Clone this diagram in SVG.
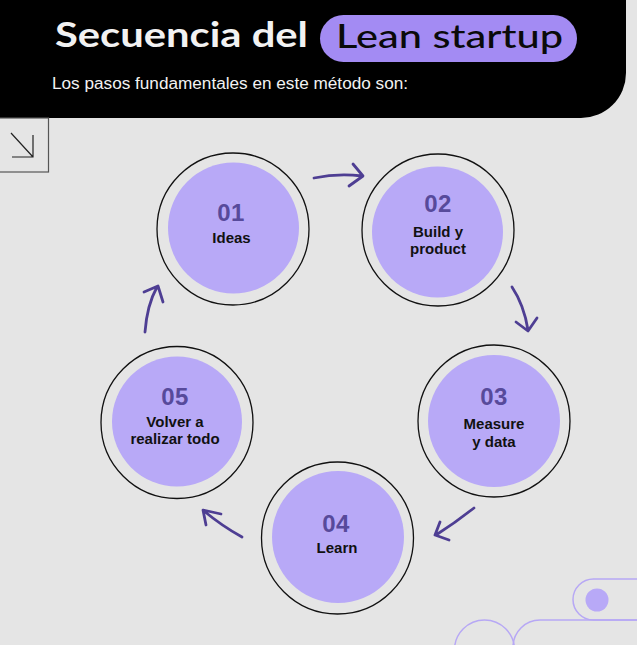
<svg xmlns="http://www.w3.org/2000/svg" width="637" height="645" viewBox="0 0 637 645">
  <style>
    .ring { fill: none; stroke: #111; stroke-width: 1.3; }
    .core { fill: #b8a9f7; }
    .num { font-family: "Liberation Sans", Arial, sans-serif; font-weight: 700; font-size: 24px; fill: #574a9b; text-anchor: middle; letter-spacing: 0.5px; }
    .lbl { font-family: "Liberation Sans", Arial, sans-serif; font-weight: 700; font-size: 15px; fill: #111; text-anchor: middle; }
    .arrow { fill: none; stroke: #4e3e93; stroke-width: 2.8; stroke-linecap: round; stroke-linejoin: round; }
    .deco { fill: none; stroke: #b7a8f5; stroke-width: 1.5; }
  </style>
  <rect x="0" y="0" width="637" height="645" fill="#e5e5e5"/>

  <g id="header">
    <path d="M0,0 H626 V73 A45,45 0 0 1 581,118 H0 Z" fill="#000"/>
    <text x="55" y="47" font-family="Lato, 'Liberation Sans', sans-serif" font-weight="700" font-size="34" fill="#f2f2f2" textLength="253" lengthAdjust="spacingAndGlyphs">Secuencia del</text>
    <rect x="320" y="15" width="257" height="47" rx="23.5" fill="#a38bf3"/>
    <text x="336" y="48" font-family="Lato, 'Liberation Sans', sans-serif" font-weight="500" font-size="33" fill="#0a0a0a" textLength="227" lengthAdjust="spacingAndGlyphs">Lean startup</text>
    <text x="52" y="89" font-family="'Liberation Sans', Arial, sans-serif" font-size="16" fill="#f2f2f2" textLength="356" lengthAdjust="spacingAndGlyphs">Los pasos fundamentales en este método son:</text>
  </g>

  <g id="corner-box">
    <rect x="-1" y="118" width="49.5" height="54" fill="none" stroke="#555" stroke-width="1.2"/>
    <path d="M11,133 L33,157 M33,135 V157 H12" fill="none" stroke="#222" stroke-width="1.2"/>
  </g>

  <g id="node-01">
    <circle class="ring" cx="233" cy="229" r="76"/>
    <circle class="core" cx="233.5" cy="228" r="65.5"/>
    <text class="num" x="231" y="221">01</text>
    <text class="lbl" x="231.5" y="243">Ideas</text>
  </g>
  <g id="node-02">
    <circle class="ring" cx="438" cy="230" r="76"/>
    <circle class="core" cx="437.5" cy="232" r="65.5"/>
    <text class="num" x="438" y="212">02</text>
    <text class="lbl" x="438" y="237">Build y</text>
    <text class="lbl" x="438" y="254">product</text>
  </g>
  <g id="node-03">
    <circle class="ring" cx="494" cy="421" r="76"/>
    <circle class="core" cx="494" cy="421" r="66"/>
    <text class="num" x="494" y="405">03</text>
    <text class="lbl" x="494" y="429">Measure</text>
    <text class="lbl" x="494" y="447">y data</text>
  </g>
  <g id="node-04">
    <circle class="ring" cx="337.5" cy="538" r="76"/>
    <circle class="core" cx="338" cy="537" r="66"/>
    <text class="num" x="336" y="532">04</text>
    <text class="lbl" x="337" y="553">Learn</text>
  </g>
  <g id="node-05">
    <circle class="ring" cx="177" cy="422.5" r="76"/>
    <circle class="core" cx="177" cy="421.5" r="65"/>
    <text class="num" x="175" y="405">05</text>
    <text class="lbl" x="175" y="427">Volver a</text>
    <text class="lbl" x="175" y="444">realizar todo</text>
  </g>

  <g id="connectors">
    <path class="arrow" d="M314,178 Q338,173 362,176 M353,164 L363,176 L349,186"/>
    <path class="arrow" d="M512,287 Q524,305 528,330 M516,322 L528,331 L537,318"/>
    <path class="arrow" d="M474,508 Q455,523 436,535 M440,522 L435,535 L449,540"/>
    <path class="arrow" d="M242,537 Q222,526 204,511 M206,525 L203,510 L221,514"/>
    <path class="arrow" d="M145,332 Q147,305 157,287 M144,292 L158,286 L163,302"/>
  </g>

  <g id="decoration">
    <path class="deco" d="M637,579 H593.5 A20.5,20.5 0 0 0 593.5,620 H637"/>
    <circle cx="597" cy="600" r="11.5" fill="#b8a9f7"/>
    <circle class="deco" cx="484.5" cy="650" r="30"/>
    <path class="deco" d="M637,620 H540 A27,27 0 0 0 513,647"/>
  </g>
</svg>
